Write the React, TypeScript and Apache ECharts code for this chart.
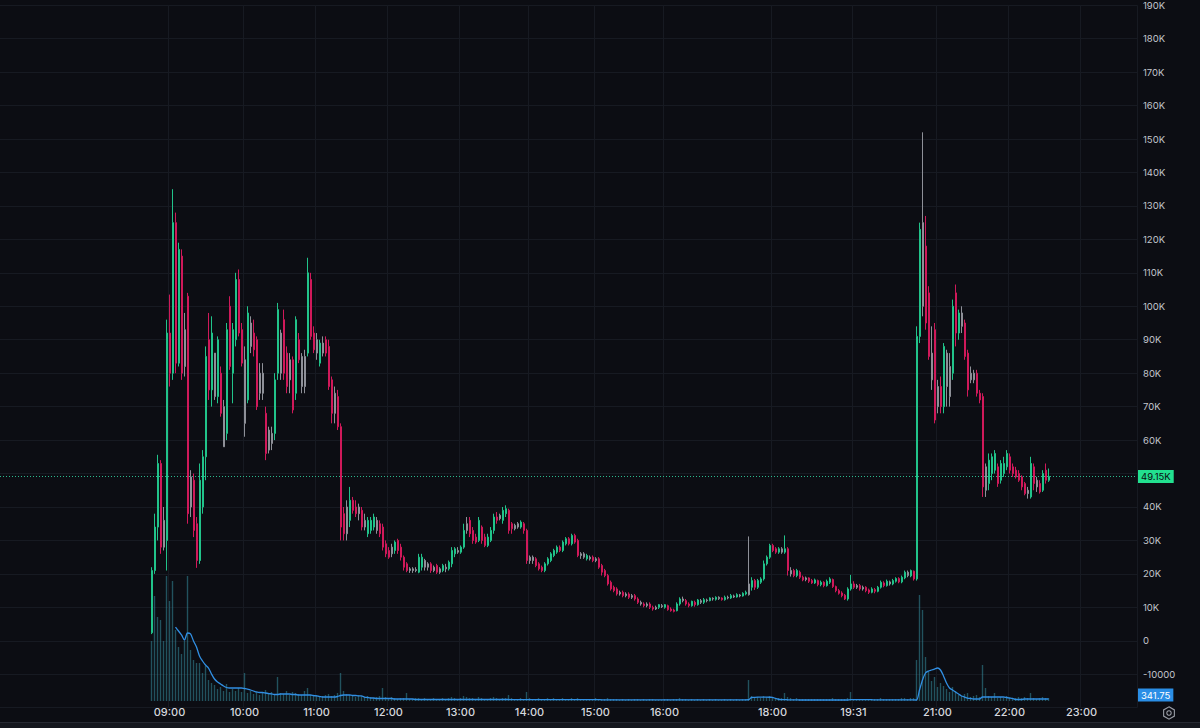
import React, { useEffect, useRef } from "react";
import * as echarts from "echarts";

// One row per candle, in thousands: [open, close, low, high]
const candles: number[][] = [
  [2.4, 21, 2.0, 22], [21, 34, 20, 38], [34, 53, 30, 55.6], [53, 28, 26, 54], [28, 36, 27, 40],
  [30, 92, 21, 96], [92, 80, 76, 103.5], [80, 125, 78, 135], [125, 83, 80, 128], [83, 117, 82, 119],
  [115, 80, 78, 117], [82, 93, 79, 98], [103, 38, 35, 104], [40, 49, 37, 51], [48, 33, 31, 50],
  [35, 24, 21.8, 37], [24, 48, 23, 53], [40, 55, 38, 57], [55, 85, 48, 88], [90, 75, 72, 98],
  [75, 92, 70, 97], [86, 73, 72, 86], [73, 90, 71, 91], [80, 68, 67, 82], [70, 58, 58, 72],
  [62, 93, 60, 95], [100, 82, 81, 103], [80, 93, 71, 95], [90, 108, 88, 110], [108, 92, 91, 111],
  [93, 83, 82, 95], [84, 65, 61, 88], [72, 98, 71, 100], [95, 88, 86, 97], [92, 87, 85, 96],
  [90, 70, 69, 91], [74, 80, 72, 83], [80, 74, 72, 83], [68, 56, 54, 70], [57, 63, 56, 64],
  [62, 59, 57, 64], [62, 78, 60, 80], [80, 99, 78, 101], [92, 80, 78, 93], [96, 80, 78, 99],
  [86, 76, 74, 88], [78, 84, 74, 86], [84, 69, 68, 85], [74, 96, 72, 97], [90, 84, 83, 92],
  [85, 76, 74, 86], [76, 85, 74, 87], [86, 110, 85, 114.5], [108, 91, 90, 110], [92, 87, 86, 94],
  [86, 90, 84, 92], [83, 89, 82, 90], [89, 86, 85, 91], [90, 86, 85, 91], [88, 76, 75, 90],
  [78, 68, 65, 79], [68, 74, 65, 76], [73, 64, 63, 75], [64, 34, 30, 65], [38, 32, 30, 40],
  [32, 40, 30, 42], [36, 42, 34, 46], [42, 39, 38, 43], [40, 38, 37, 42], [38, 40, 36, 41],
  [39, 34, 33, 40], [34, 36, 33, 38], [32, 36, 31, 37], [33, 36, 32, 37], [34, 37, 33, 38],
  [36, 33, 32, 37], [35, 32, 31, 36], [34, 28, 27, 35], [29, 26, 25, 30], [27, 25, 24.5, 28],
  [26, 28, 25, 29], [27, 29.5, 26, 30], [30, 27, 26, 30.5], [28, 25, 24, 29], [25, 22, 21, 25.5],
  [23, 21, 20.5, 23.5], [21, 21.5, 20.3, 22], [21.5, 21, 20.3, 22], [21, 21.3, 20.5, 22], [20.5, 25, 20.2, 26],
  [22, 25, 21, 26], [24, 22, 21, 24.5], [22, 23, 21, 23.5], [23, 21, 20.3, 23.5], [21, 22, 20.5, 22.5],
  [22.5, 20.5, 20, 23], [20.5, 21.5, 20, 22], [21, 22.5, 20.5, 23], [22, 21.5, 20.5, 23], [21.5, 23.5, 21, 24],
  [23, 27, 22, 28], [26, 27.5, 25, 28], [27, 26.5, 26, 28], [26.5, 28, 26, 28.5], [28, 33, 27.5, 35],
  [35, 33, 32, 37], [36, 32, 31, 37], [33, 30, 29, 34], [31, 29.5, 29, 32], [30, 36, 29.5, 37],
  [34, 30, 29, 34.5], [31, 28.5, 28, 32], [28.5, 31, 28, 32], [30, 33, 29.5, 34], [33, 37, 32, 38],
  [37, 36, 35, 38.5], [36.5, 37.5, 36, 38], [36, 39, 35, 40], [38, 39.5, 37, 40.5], [39, 33, 32, 39.5],
  [35, 33.5, 32, 35.5], [33.5, 34.5, 33, 35], [34, 35, 33.5, 35.5], [34, 35.5, 33.5, 36], [35, 33, 32, 35.5],
  [33, 24, 23, 33.5], [24, 25, 23, 25.5], [25, 24, 23, 25.5], [24.5, 22.5, 22, 25], [23, 21.5, 21, 23.5],
  [22, 21, 20.5, 22.5], [21, 23, 20.5, 23.5], [23, 24.5, 22.5, 25], [24, 26, 23.5, 26.5], [25.5, 27, 25, 27.5],
  [26.5, 28, 26, 28.5], [28, 27, 26.5, 28.5], [27, 29.5, 26.5, 30], [29, 30.5, 28.5, 31], [30.5, 29, 28.5, 31],
  [29, 31.5, 28.5, 32], [31.5, 29.5, 29, 32], [30, 25.5, 25, 30.5], [25.5, 26, 24.5, 26.5], [26, 25, 24.5, 26.5],
  [24.5, 25.5, 24, 26], [25, 24.5, 24, 25.5], [25, 24, 23.5, 25.5], [24, 24.5, 23.5, 25], [24.5, 22, 21.5, 25],
  [22.5, 20.5, 19.5, 23], [21, 19.5, 19, 21.5], [19.5, 17, 16.5, 20], [17.5, 15.5, 15, 18], [16, 15, 14.5, 16.5],
  [15.5, 14, 13.5, 16], [14, 14.5, 13.5, 15], [14.5, 13.5, 13, 15], [13.5, 14, 13, 14.5], [14, 13, 12.5, 14.5],
  [13, 13.5, 12.5, 14], [13.5, 12.5, 12, 14], [12.5, 11.5, 11, 13], [11.5, 11, 10.5, 12], [11, 10.5, 10, 11.5],
  [10.5, 11, 10, 11.5], [11, 10, 9.5, 11.5], [10, 9.5, 9, 10.5], [9.5, 10, 9.2, 10.5], [10, 10.8, 9.5, 11],
  [10.5, 10.2, 9.8, 11], [10, 10.8, 9.6, 11], [10.5, 9.3, 9, 10.8], [9.5, 9, 8.7, 10], [9.2, 8.8, 8.5, 9.6],
  [9, 11, 8.8, 11.5], [11, 12.5, 10.5, 13], [12.5, 12, 11.5, 13.2], [12, 11, 10.5, 12.5], [11, 10.5, 10, 11.5],
  [10.5, 11.8, 10.2, 12], [11.5, 10.8, 10.2, 12], [10.8, 12.2, 10.5, 12.5], [12, 11.5, 11, 12.5], [11.5, 12.3, 11, 12.8],
  [12.2, 12, 11.5, 12.6], [12, 12.8, 11.8, 13], [12.7, 12.5, 12, 13], [12.4, 13, 12, 13.3], [13, 12.6, 12.2, 13.3],
  [12.8, 12.3, 12, 13], [12.3, 13, 12, 13.5], [13, 12.8, 12.4, 13.5], [12.8, 13.5, 12.5, 14], [13.4, 13.1, 12.8, 13.8],
  [13.1, 13.8, 12.9, 14.2], [13.7, 13.4, 13, 14], [13.4, 14.2, 13.2, 14.5], [14, 14.5, 13.6, 15], [13.8, 17, 13.5, 31.2],
  [16, 18, 15, 19], [18, 16, 15.2, 18.5], [16, 18, 15.5, 18.5], [17.5, 18.5, 17, 19], [18.5, 23, 18, 24],
  [23, 25, 22.5, 25.5], [25, 28.5, 24.5, 29], [28.5, 27, 26.5, 29], [27.5, 26.5, 26, 28], [26.5, 27.5, 26, 28],
  [27.5, 26.5, 26, 28], [26.5, 27.5, 26, 31.5], [27.5, 21, 19.5, 28], [21, 20, 19.2, 22], [21, 19.5, 19, 21.5],
  [19.5, 21, 19, 21.5], [20.5, 19, 18.5, 21], [19, 18.2, 17.8, 19.5], [18.3, 18.8, 17.8, 19.2], [18.8, 17.8, 17.3, 19],
  [18, 17.3, 17, 18.5], [17.3, 18.2, 17, 18.6], [18, 16.8, 16.3, 18.3], [16.8, 17.5, 16.3, 18], [17.5, 16.5, 16, 17.8],
  [16.5, 17.8, 16.2, 18.3], [17.5, 18.5, 17, 19], [18.3, 16.2, 15.8, 18.6], [16.2, 15, 14.5, 16.5], [15, 14.2, 13.8, 15.5],
  [14.3, 13.5, 13, 14.8], [13.6, 12.5, 12.2, 14], [12.5, 15.5, 12, 16], [15.5, 17, 15, 19.7], [17, 16, 15.5, 17.8],
  [16, 16.5, 15.5, 17], [16.5, 15.5, 15, 17], [15.5, 16, 15, 16.5], [16, 15, 14.5, 16.3], [15.2, 14.5, 14, 15.6],
  [14.5, 15.5, 14.2, 16], [15.3, 14.8, 14.2, 15.8], [14.8, 16, 14.5, 16.4], [16, 17.5, 15.6, 18], [17.3, 16.5, 16, 17.8],
  [16.5, 17.8, 16.2, 18.3], [17.6, 17, 16.5, 18], [17, 18, 16.6, 18.5], [17.8, 18.6, 17.4, 19], [18.6, 17.6, 17.2, 19],
  [17.6, 19, 17.2, 19.5], [18.8, 20.5, 18.4, 21], [20.5, 19.5, 19, 21], [19.4, 21, 19, 21.3], [20.8, 18.5, 18, 21],
  [18.5, 91, 18, 94], [91, 123, 89, 125], [125, 100, 97, 152], [118, 95, 93, 127], [104, 85, 84, 106],
  [86, 78, 75, 94], [93, 66, 65, 95], [70, 76, 68, 78], [76, 70, 68, 79], [70, 88, 68, 89],
  [86, 76, 70, 87], [73, 82, 70, 86], [80, 100, 78, 102], [104, 92, 88, 106.5], [92, 98, 90, 99],
  [98, 94, 92, 100], [95, 85, 84, 96], [86, 75, 73, 87], [78, 80, 77, 82], [80, 78, 77, 81],
  [80, 74, 73, 81], [74, 72, 71, 75], [73, 46, 43, 74], [45, 52, 43, 53], [47, 54, 45, 56],
  [50, 55, 48, 56], [51, 56, 50, 57], [52, 47, 46, 53], [48, 53, 47, 54], [50, 53, 49, 55],
  [52, 56, 51, 57], [55, 51, 50, 56], [52, 50, 49, 53], [51, 49, 48.5, 52], [50, 48, 47.5, 51],
  [49, 46, 45, 49.5], [47, 44, 43.5, 47.5], [44, 45, 42.5, 46], [43, 53, 42.5, 55], [52, 47, 45, 53],
  [48, 46, 44.5, 49], [47, 44.5, 44, 48], [45, 50, 44.5, 51], [51, 48, 47, 53], [48, 49.15, 47.5, 51.5],
];

// candles drawn in the neutral grey tone
const grayCandles = [
  4, 11, 13, 21, 24, 31, 33, 36, 37, 39, 40, 43, 46, 50, 51, 55, 57, 61, 65, 69, 71, 75, 80, 86, 87, 88,
  91, 92, 94, 96, 98, 102, 105, 116, 121, 122, 126, 127, 143, 144, 146, 148, 156, 158, 160, 163, 165,
  168, 170, 177, 183, 185, 187, 189, 192, 194, 196, 199, 210, 213, 218, 235, 237, 246, 252, 257, 260,
  262, 265, 266, 270, 273, 274, 278, 292, 295,
];

const volume = [
  10260, 17960, 14360, 13850, 10260, 21380, 17100, 20520, 12140, 9230,
  8040, 10260, 21380, 8720, 7010, 6500, 6500, 4790, 5990, 3590,
  3080, 2740, 2050, 2390, 1710, 2910, 1540, 2050, 1710, 2220,
  1540, 4790, 1370, 1710, 1200, 1540, 1030, 1370, 1880, 1200,
  1540, 1030, 4100, 1370, 1200, 1710, 1030, 1540, 1370, 1200,
  1030, 1710, 2220, 1030, 860, 1030, 680, 860, 1030, 1200,
  860, 1030, 1370, 4790, 1710, 1200, 1030, 860, 680, 1030,
  860, 680, 860, 680, 510, 680, 860, 2220, 680, 510,
  680, 510, 340, 510, 510, 1370, 340, 340, 510, 510,
  340, 510, 340, 340, 510, 340, 340, 510, 340, 510,
  680, 510, 340, 510, 860, 680, 510, 510, 340, 680,
  510, 340, 340, 510, 680, 510, 340, 510, 510, 1030,
  510, 340, 340, 510, 340, 1540, 510, 340, 340, 510,
  340, 340, 510, 340, 510, 340, 340, 510, 340, 340,
  510, 340, 510, 340, 340, 340, 340, 340, 510, 340,
  340, 340, 510, 340, 340, 340, 170, 340, 170, 340,
  170, 340, 340, 170, 340, 170, 340, 340, 170, 170,
  170, 340, 340, 170, 340, 340, 510, 340, 340, 170,
  340, 170, 340, 170, 340, 170, 340, 170, 340, 170,
  170, 340, 170, 340, 170, 340, 170, 340, 340, 3590,
  860, 680, 680, 510, 860, 680, 860, 510, 510, 510,
  510, 1370, 680, 510, 340, 510, 340, 340, 340, 340,
  340, 340, 340, 340, 340, 340, 340, 510, 340, 340,
  340, 340, 510, 1540, 340, 340, 340, 340, 340, 340,
  340, 340, 340, 510, 340, 340, 340, 340, 340, 340,
  510, 510, 340, 510, 510, 7010, 18130, 15560, 7520, 5130,
  3420, 4100, 2390, 3080, 2570, 2050, 1540, 2390, 1710, 1030,
  860, 1200, 1370, 680, 860, 1030, 680, 6160, 2220, 860,
  680, 1370, 510, 680, 510, 860, 680, 510, 510, 680,
  510, 680, 510, 1370, 510, 340, 510, 680, 510, 510,
];

const volumeMA: (number | null)[] = [
  null, null, null, null, null, null, null, null, 12650, 11970,
  11290, 10430, 11630, 11460, 10260, 9230, 7700, 6840, 6160, 5640,
  4620, 3760, 3250, 2910, 2570, 2310, 2220, 2220, 2220, 2220,
  2220, 2140, 2050, 1880, 1710, 1540, 1450, 1450, 1370, 1280,
  1200, 1110, 1110, 1200, 1200, 1200, 1200, 1110, 1110, 1030,
  1030, 1030, 1030, 1030, 940, 860, 770, 680, 680, 680,
  680, 680, 770, 940, 1030, 1030, 1030, 940, 940, 860,
  860, 680, 600, 510, 510, 430, 430, 430, 430, 430,
  430, 340, 340, 340, 340, 340, 340, 340, 260, 260,
  260, 260, 260, 260, 260, 260, 260, 260, 260, 260,
  260, 260, 260, 260, 260, 260, 260, 260, 260, 260,
  260, 260, 260, 260, 260, 260, 260, 260, 260, 260,
  240, 240, 240, 240, 240, 240, 240, 240, 240, 240,
  240, 240, 240, 240, 240, 240, 240, 240, 240, 240,
  240, 240, 240, 240, 240, 240, 240, 240, 240, 240,
  200, 200, 200, 200, 200, 200, 200, 200, 200, 200,
  200, 200, 200, 200, 200, 200, 200, 200, 200, 200,
  200, 200, 200, 200, 200, 200, 200, 200, 200, 200,
  200, 200, 200, 200, 200, 200, 200, 200, 200, 200,
  200, 200, 200, 200, 200, 200, 200, 200, 200, 210,
  600, 630, 650, 650, 650, 650, 640, 620, 430, 300,
  250, 230, 210, 200, 200, 190, 170, 170, 170, 170,
  170, 170, 170, 170, 170, 170, 170, 170, 170, 170,
  170, 170, 170, 220, 220, 220, 220, 220, 220, 220,
  220, 180, 180, 180, 180, 180, 180, 180, 180, 180,
  180, 180, 180, 180, 180, 170, 1880, 3590, 4790, 5130,
  5300, 5470, 5640, 5300, 4280, 3080, 2220, 1880, 1540, 1200,
  860, 680, 510, 430, 340, 340, 340, 680, 680, 680,
  680, 680, 680, 680, 680, 600, 510, 430, 260, 260,
  260, 340, 340, 340, 340, 340, 340, 340, 340, 341.75,
];

// time-axis labels and the candle that carries each one
const timeLabels = ["09:00", "10:00", "11:00", "12:00", "13:00", "14:00", "15:00", "16:00", "18:00", "19:31", "21:00", "22:00", "23:00"];
const timeLabelCandle = [6, 31, 55, 79, 103, 126, 148, 171, 207, 234, 262, 286, 310];

const lastPrice = 49150;
const lastVolumeMA = 341.75;

// empty slots before the first candle and after the last one
const LEAD_SLOTS = 50;
const TRAIL_SLOTS = 29;

const BG = "#0c0d13";
const GRID = "#171a22";
const UP = "#21c38a";
const DOWN = "#d0195a";
const GREY = "#8e9098";
const FONT = "Inter, Roboto, 'Noto Sans', sans-serif";

export default function App() {
  const ref = useRef<HTMLDivElement>(null);

  useEffect(() => {
    if (!ref.current) return;
    const chart = echarts.init(ref.current, null, { renderer: "svg" });

    const total = LEAD_SLOTS + candles.length + TRAIL_SLOTS;
    const cats = Array.from({ length: total }, (_, k) => `c${k}`);
    const labelAt = new Map<number, string>();
    timeLabelCandle.forEach((ci, t) => labelAt.set(LEAD_SLOTS + ci, timeLabels[t]));
    const graySet = new Set(grayCandles);
    const greyStyle = { color: GREY, color0: GREY, borderColor: GREY, borderColor0: GREY };

    const candleData = cats.map((_, k) => {
      const i = k - LEAD_SLOTS;
      if (i < 0 || i >= candles.length) return "-";
      const [o, c, l, h] = candles[i];
      const v = [o * 1000, c * 1000, l * 1000, h * 1000];
      return graySet.has(i) ? { value: v, itemStyle: greyStyle } : v;
    });
    const volData = cats.map((_, k) => {
      const i = k - LEAD_SLOTS;
      return i < 0 || i >= volume.length ? "-" : volume[i];
    });
    const maData = cats.map((_, k) => {
      const i = k - LEAD_SLOTS;
      if (i < 0 || i >= volumeMA.length) return "-";
      const v = volumeMA[i];
      return v == null ? "-" : v;
    });

    const showTick = (idx: number) => labelAt.has(idx);

    // the last-price tag covers the nearest round price label, as on the reference
    const hiddenPriceLabel = Math.round(lastPrice / 10000) * 10000;

    const hex: number[][] = [];
    for (let a = 0; a < 6; a++) {
      const ang = (Math.PI / 3) * a - Math.PI / 2;
      hex.push([1169 + 6.2 * Math.cos(ang), 713 + 6.2 * Math.sin(ang)]);
    }

    const option: any = {
      animation: false,
      backgroundColor: BG,
      grid: [
        { left: 0, right: 63, top: 5.2, bottom: 20.3 },
        { left: 0, right: 63, top: 501, bottom: 27 },
      ],
      xAxis: [
        {
          type: "category", gridIndex: 0, data: cats, boundaryGap: true,
          axisLine: { show: false }, axisTick: { show: false }, axisLabel: { show: false },
          splitLine: { show: true, interval: showTick, lineStyle: { color: GRID, width: 1 } },
        },
        {
          type: "category", gridIndex: 1, data: cats, boundaryGap: true,
          axisLine: { show: false }, axisTick: { show: false }, splitLine: { show: false },
          axisLabel: {
            show: true, interval: showTick,
            formatter: (_v: string, idx: number) => labelAt.get(idx) ?? "",
            color: "#d6d8de", fontSize: 11, fontWeight: 500, fontFamily: FONT, margin: 5,
          },
        },
      ],
      yAxis: [
        {
          type: "value", gridIndex: 0, position: "right", min: -20000, max: 190000, interval: 10000,
          axisLine: { show: false }, axisTick: { show: false },
          splitLine: { show: true, lineStyle: { color: GRID, width: 1 } },
          axisLabel: {
            color: "#c3c6cd", fontSize: 9.5, fontFamily: FONT, margin: 6,
            formatter: (v: number) =>
              v <= -20000 || v === hiddenPriceLabel ? "" : v === 0 ? "0" : v < 0 ? String(v) : `${v / 1000}K`,
          },
        },
        { type: "value", gridIndex: 1, min: 0, max: 34200, show: false, splitLine: { show: false } },
      ],
      series: [
        {
          type: "bar", xAxisIndex: 1, yAxisIndex: 1, data: volData, barWidth: 1.4, silent: true,
          itemStyle: { color: "rgba(52,140,156,0.55)" },
        },
        {
          type: "line", xAxisIndex: 1, yAxisIndex: 1, data: maData, showSymbol: false, smooth: 0.3,
          silent: true, lineStyle: { color: "#318fe3", width: 1.3 },
          markLine: {
            silent: true, symbol: ["none", "none"], data: [{ yAxis: lastVolumeMA }],
            lineStyle: { color: "rgba(0,0,0,0)", width: 0 },
            label: {
              show: true, position: "end", distance: 1, offset: [0, -4],
              formatter: () => String(lastVolumeMA),
              color: "#ffffff", backgroundColor: "#2a8ee6", padding: [2, 3, 1, 3],
              fontSize: 9.5, fontFamily: FONT,
            },
          },
        },
        {
          type: "candlestick", xAxisIndex: 0, yAxisIndex: 0, data: candleData, barWidth: 1.5,
          itemStyle: { color: UP, color0: DOWN, borderColor: UP, borderColor0: DOWN, borderWidth: 1 },
          markLine: {
            silent: true, symbol: ["none", "none"], data: [{ yAxis: lastPrice }],
            lineStyle: { color: "#2bb98e", type: [1, 2], width: 1 },
            label: {
              show: true, position: "end", distance: 1,
              formatter: () => `${(lastPrice / 1000).toFixed(2)}K`,
              color: "#0b0c10", backgroundColor: "#22e08f", padding: [2, 3, 1, 3],
              fontSize: 9.5, fontFamily: FONT,
            },
          },
        },
      ],
      graphic: [
        { type: "rect", shape: { x: 0, y: 722, width: 1200, height: 6 }, style: { fill: "#15171e" }, silent: true },
        { type: "line", shape: { x1: 0, y1: 722.5, x2: 1200, y2: 722.5 }, style: { stroke: "#262932", lineWidth: 1 }, silent: true },
        { type: "polygon", shape: { points: hex }, style: { fill: "none", stroke: "#9a9da6", lineWidth: 1.1 }, silent: true },
        { type: "circle", shape: { cx: 1169, cy: 713, r: 2.2 }, style: { fill: "none", stroke: "#9a9da6", lineWidth: 1.1 }, silent: true },
      ],
    };

    chart.setOption(option);
    return () => chart.dispose();
  }, []);

  return (
    <div
      ref={ref}
      style={{ position: "fixed", left: 0, top: 0, width: 1200, height: 728, background: BG }}
    />
  );
}
